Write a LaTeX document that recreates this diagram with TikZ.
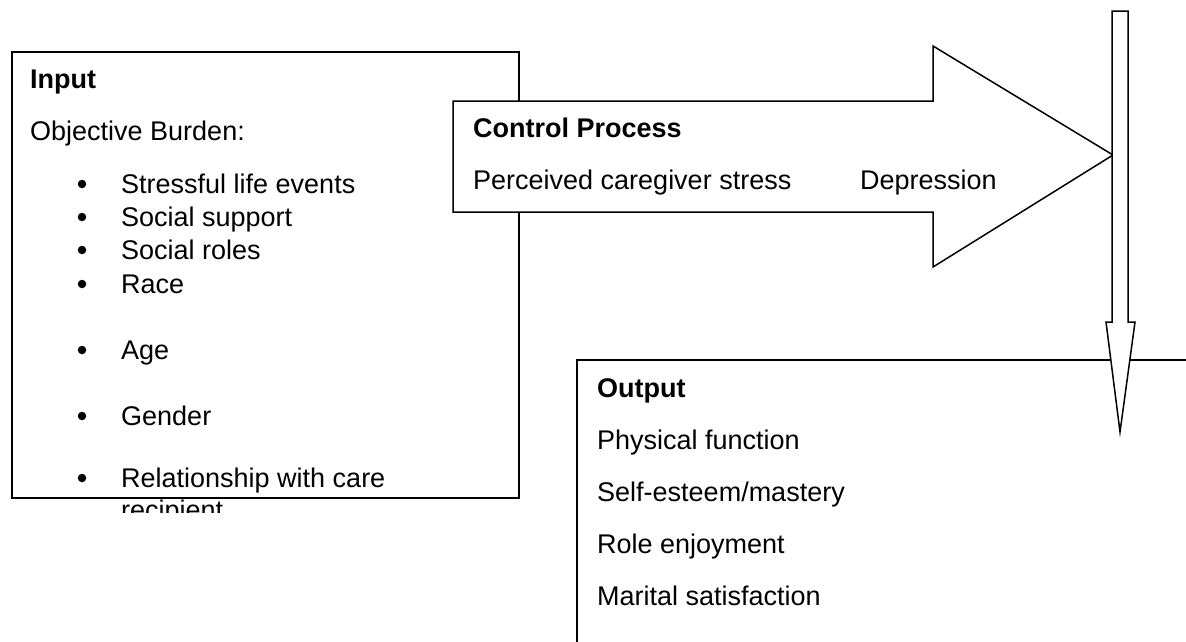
\documentclass[tikz,border=0pt]{standalone}
\usepackage{fontspec}
\setmainfont{Liberation Sans}
\begin{document}
\begin{tikzpicture}[x=1pt,y=-1pt,
  txt/.style={inner sep=0pt, anchor=base west, font=\fontsize{27}{32}\selectfont},
  hd/.style={inner sep=0pt, anchor=base west, font=\fontsize{27}{32}\selectfont\bfseries},
  bul/.style={circle, fill=black, inner sep=0pt, minimum size=8.5pt},
  frame/.style={draw=black, line width=1.5pt, line join=miter}]
\useasboundingbox (0,0) rectangle (1186,641);

% Input box
\draw[frame, fill=white] (12,52) rectangle (519,498);
\begin{scope}
\clip (12,52) rectangle (519,512);
\node[hd]  (inTitle) at (30,88)  {Input};
\node[txt] (objB)    at (30,140) {Objective Burden:};
\node[bul] (d1) at (82,184) {}; \node[txt] (i1) at (121,193) {Stressful life events};
\node[bul] (d2) at (82,217) {}; \node[txt] (i2) at (121,226) {Social support};
\node[bul] (d3) at (82,250) {}; \node[txt] (i3) at (121,259) {Social roles};
\node[bul] (d4) at (82,284) {}; \node[txt] (i4) at (121,293) {Race};
\node[bul] (d5) at (82,350) {}; \node[txt] (i5) at (121,359) {Age};
\node[bul] (d6) at (82,416) {}; \node[txt] (i6) at (121,425) {Gender};
\node[bul] (d7) at (82,478) {}; \node[txt] (i7) at (121,487) {Relationship with care};
\node[txt] (i7b) at (121,519) {recipient};
\end{scope}

% Output box (open to the right and bottom)
\draw[frame] (1195,360) -- (577,360) -- (577,650);
\node[hd]  (outTitle) at (597,397) {Output};
\node[txt] (o1) at (597,449) {Physical function};
\node[txt] (o2) at (597,501) {Self-esteem/mastery};
\node[txt] (o3) at (597,553) {Role enjoyment};
\node[txt] (o4) at (597,605) {Marital satisfaction};

% Control process block arrow
\draw[frame, fill=white] (453,101) -- (933,101) -- (933,46) -- (1113,155)
   -- (933,267) -- (933,212) -- (453,212) -- cycle;
\node[hd]  (ctlTitle) at (473,137) {Control Process};
\node[txt] (c1) at (473,189) {Perceived caregiver stress};
\node[txt] (c2) at (860,189) {Depression};

% Vertical block arrow
\draw[frame, fill=white] (1112,11) -- (1128,11) -- (1128,322) -- (1135,322)
   -- (1120,432) -- (1106,322) -- (1112,322) -- cycle;
\end{tikzpicture}
\end{document}
